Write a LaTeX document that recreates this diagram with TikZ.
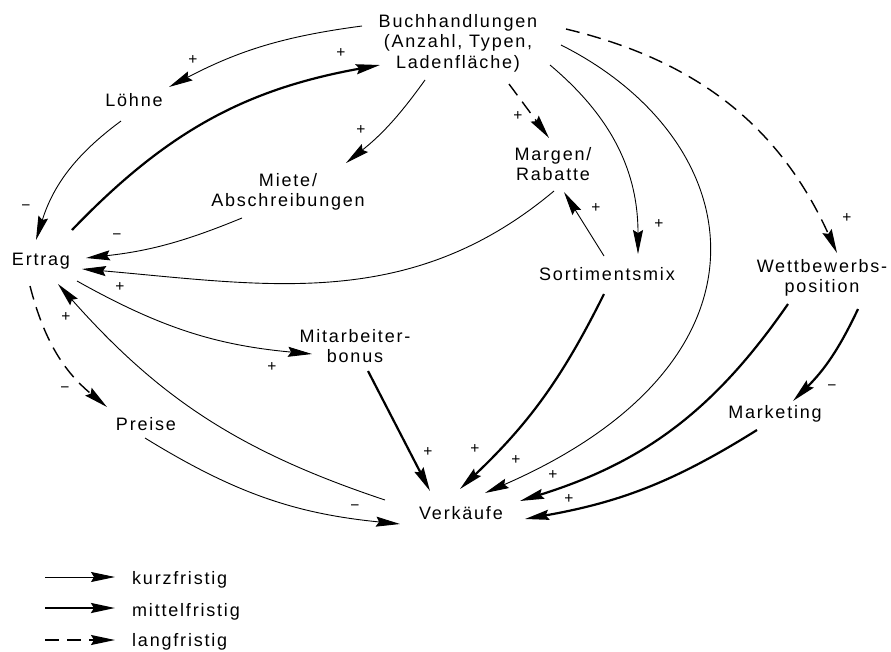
\documentclass[tikz,border=0pt]{standalone}
\usepackage{fontspec}
\setmainfont{Liberation Sans}[LetterSpace=10]
\usetikzlibrary{arrows.meta,calc}
\begin{document}
\begin{tikzpicture}[x=1pt,y=-1pt,
  lbl/.style={font=\fontsize{18}{20.5}\selectfont, align=center, inner sep=0pt},
  sgn/.style={font=\fontsize{15.5}{15.5}\selectfont, inner sep=0pt},
  tip/.style={-{Stealth[length=24pt,width=10pt,inset=3pt]}},
  kurz/.style={tip, line width=0.9pt},
  mittel/.style={tip, line width=2.2pt},
  lang/.style={tip, line width=1.4pt, dash pattern=on 14pt off 8pt},
]
\useasboundingbox (0,0) rectangle (891,651);

% factors
\node[lbl] (buch)   at (458,43)  {Buchhandlungen\\(Anzahl, Typen,\\Ladenfläche)};
\node[lbl] (loehne) at (134,100) {Löhne};
\node[lbl] (miete)  at (288,192) {Miete/\\Abschreibungen};
\node[lbl] (margen) at (553,164) {Margen/\\Rabatte};
\node[lbl] (ertrag) at (41,261)  {Ertrag};
\node[lbl] (sort)   at (607,274) {Sortimentsmix};
\node[lbl] (wett)   at (822,278) {Wettbewerbs-\\position};
\node[lbl] (mitarb) at (355,346) {Mitarbeiter-\\bonus};
\node[lbl] (preise) at (146,424) {Preise};
\node[lbl] (market) at (775,414) {Marketing};
\node[lbl] (verk)   at (461,513) {Verkäufe};

% influences
\draw[kurz]   ($(buch)+(-96,-17)$) to[bend right=10] ($(loehne)+(35,-13)$);
\draw[mittel] ($(ertrag)+(31,-31)$) to[bend left=18] ($(buch)+(-78,22)$);
\draw[kurz]   ($(loehne)+(-13,21)$) to[bend right=18] ($(ertrag)+(-5,-21)$);
\draw[kurz]   ($(buch)+(-33,37)$) to[bend left=8] ($(miete)+(58,-29)$);
\draw[lang]   ($(buch)+(51,41)$) -- ($(margen)+(-4,-26)$);
\draw[kurz]   ($(buch)+(92,22)$) to[bend left=25] ($(sort)+(31,-20)$);
\draw[kurz]   ($(buch)+(103,2)$) .. controls (750,140) and (790,360) .. ($(verk)+(24,-20)$);
\draw[lang]   ($(buch)+(108,-14)$) to[bend left=26] ($(wett)+(15,-25)$);
\draw[kurz]   ($(miete)+(-46,26)$) to[bend left=8] ($(ertrag)+(45,-3)$);
\draw[kurz]   ($(margen)+(1,27)$) to[out=-140,in=-5] ($(ertrag)+(41,8)$);
\draw[kurz]   ($(sort)+(-3,-18)$) -- ($(margen)+(11,28)$);
\draw[lang]   ($(ertrag)+(-11,25)$) to[bend right=18] ($(preise)+(-39,-17)$);
\draw[kurz]   ($(verk)+(-76,-13)$) to[bend left=15] ($(ertrag)+(17,23)$);
\draw[kurz]   ($(ertrag)+(36,20)$) to[bend right=12] ($(mitarb)+(-43,8)$);
\draw[kurz]   ($(preise)+(-1,14)$) to[bend right=13] ($(verk)+(-61,11)$);
\draw[mittel] ($(mitarb)+(13,25)$) -- ($(verk)+(-31,-22)$);
\draw[mittel] ($(sort)+(-3,20)$) to[bend left=10] ($(verk)+(-1,-24)$);
\draw[mittel] ($(wett)+(-34,26)$) to[bend left=19] ($(verk)+(59,-12)$);
\draw[mittel] ($(wett)+(36,31)$) to[bend left=10] ($(market)+(18,-13)$);
\draw[mittel] ($(market)+(-18,16)$) to[bend left=11] ($(verk)+(64,6)$);

% signs of the influences
\node[sgn] (s1)  at (193,60)  {+};
\node[sgn] (s2)  at (341,53)  {+};
\node[sgn] (s3)  at (26,208)  {−};
\node[sgn] (s4)  at (361,130) {+};
\node[sgn] (s5)  at (518,116) {+};
\node[sgn] (s6)  at (596,208) {+};
\node[sgn] (s7)  at (659,224) {+};
\node[sgn] (s8)  at (847,218) {+};
\node[sgn] (s9)  at (117,237) {−};
\node[sgn] (s10) at (120,287) {+};
\node[sgn] (s11) at (66,317)  {+};
\node[sgn] (s12) at (65,390)  {−};
\node[sgn] (s13) at (272,367) {+};
\node[sgn] (s14) at (428,452) {+};
\node[sgn] (s15) at (475,449) {+};
\node[sgn] (s16) at (516,460) {+};
\node[sgn] (s17) at (553,475) {+};
\node[sgn] (s18) at (569,499) {+};
\node[sgn] (s19) at (355,508) {−};
\node[sgn] (s20) at (832,388) {−};

% key
\coordinate (k1a) at (45,577);  \coordinate (k1b) at (115,577);
\coordinate (k2a) at (45,608);  \coordinate (k2b) at (115,608);
\coordinate (k3a) at (45,640);  \coordinate (k3b) at (115,640);
\draw[kurz]   (k1a) -- (k1b);
\draw[mittel] (k2a) -- (k2b);
\draw[lang]   (k3a) -- (k3b);
\node[lbl, anchor=base west] (kurzlbl)   at (132,584) {kurzfristig};
\node[lbl, anchor=base west] (mittellbl) at (132,616) {mittelfristig};
\node[lbl, anchor=base west] (langlbl)   at (132,646) {langfristig};
\end{tikzpicture}
\end{document}
